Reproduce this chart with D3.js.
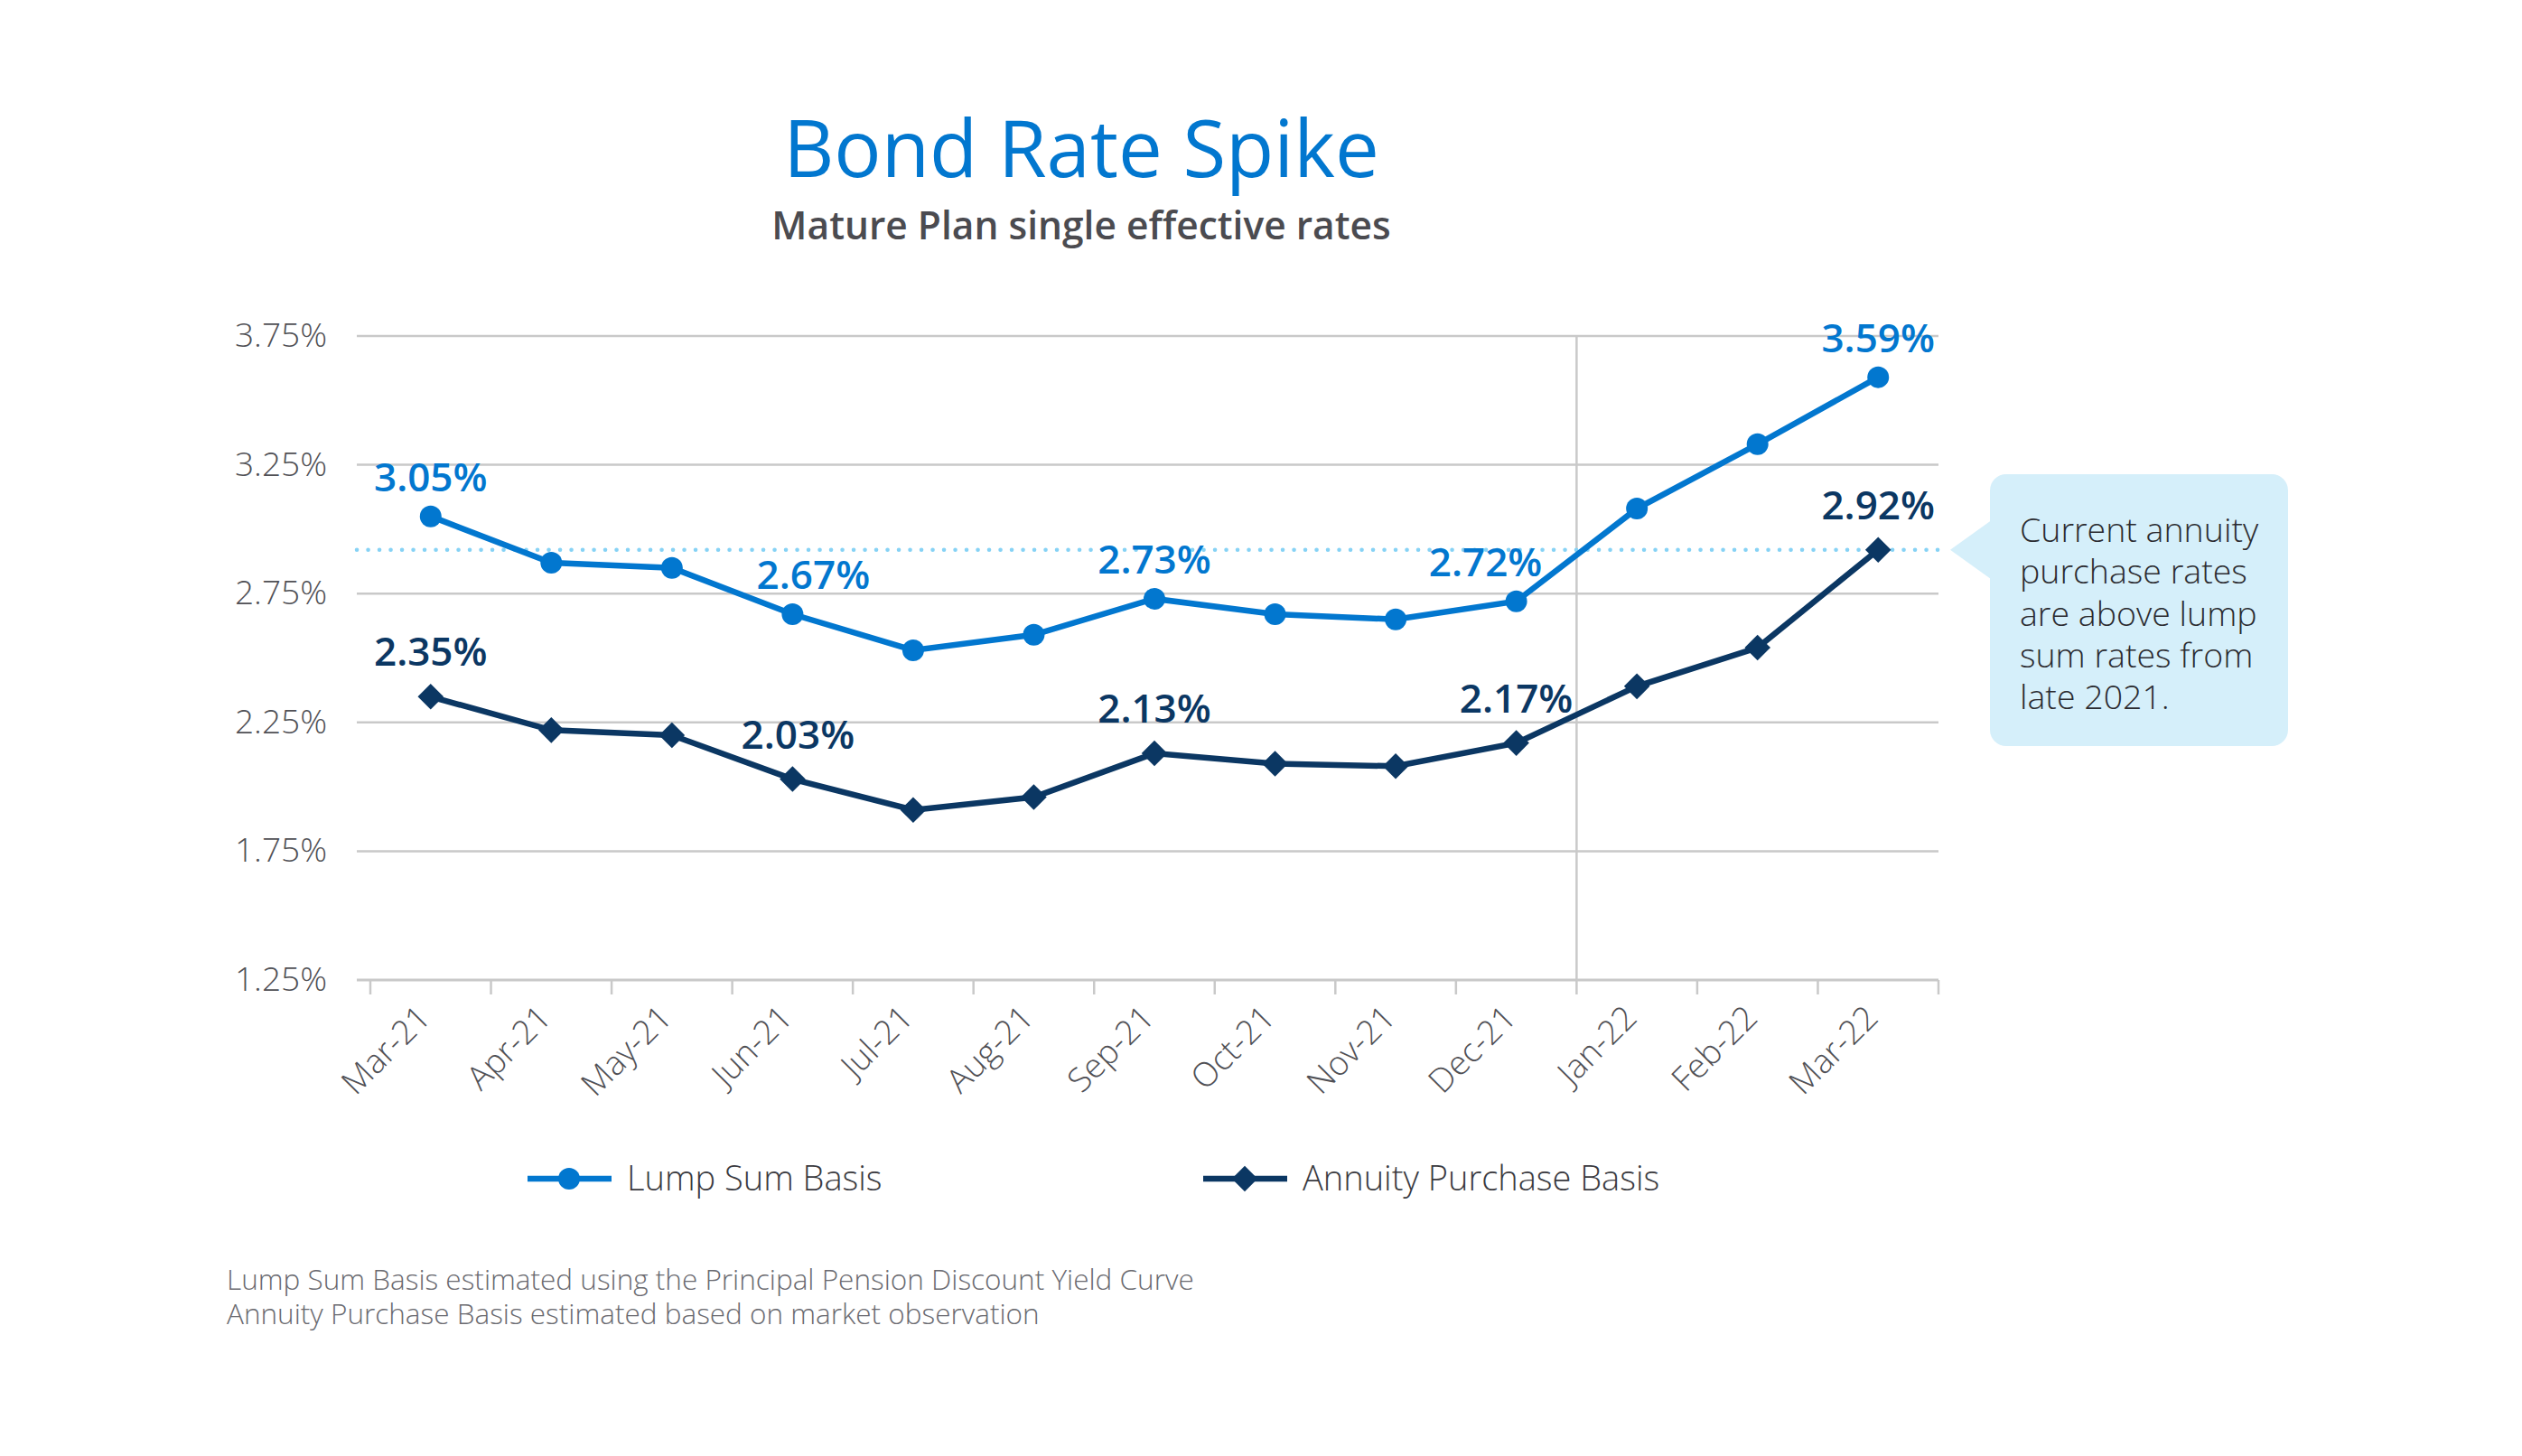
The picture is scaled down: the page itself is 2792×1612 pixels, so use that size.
<!DOCTYPE html>
<html>
<head>
<meta charset="utf-8">
<script src="https://cdn.jsdelivr.net/npm/d3@7"></script>
<style>
  body { margin: 0; background: #fff; }
  svg { display: block; font-family: "Open Sans", "Noto Sans", sans-serif; }
</style>
</head>
<body>
<svg id="chart" width="2792" height="1612"></svg>
<script>
var months = ["Mar-21", "Apr-21", "May-21", "Jun-21", "Jul-21", "Aug-21", "Sep-21",
              "Oct-21", "Nov-21", "Dec-21", "Jan-22", "Feb-22", "Mar-22"];
var lumpSum = [3.05, 2.87, 2.85, 2.67, 2.53, 2.59, 2.73, 2.67, 2.65, 2.72, 3.08, 3.33, 3.59];
var annuity = [2.35, 2.22, 2.20, 2.03, 1.91, 1.96, 2.13, 2.09, 2.08, 2.17, 2.39, 2.54, 2.92];
var yTicks = [1.25, 1.75, 2.25, 2.75, 3.25, 3.75];
// which points get a value label
var lumpLabelled = ["Mar-21", "Jun-21", "Sep-21", "Dec-21", "Mar-22"];
var annuityLabelled = ["Mar-21", "Jun-21", "Sep-21", "Dec-21", "Mar-22"];
var currentRate = 2.92;
var splitMonth = "Jan-22";
var calloutLines = ["Current annuity", "purchase rates", "are above lump", "sum rates from", "late 2021."];
var footnotes = ["Lump Sum Basis estimated using the Principal Pension Discount Yield Curve",
                 "Annuity Purchase Basis estimated based on market observation"];

var lightBlue = "#0277cf",
    navy = "#0b3763",
    gridColor = "#c9c9c9",
    fontFamily = '"Open Sans", "Noto Sans", sans-serif';

var svg = d3.select("#chart");

var plotLeft = 410, plotRight = 2146, plotTop = 372, plotBottom = 1085, gridStart = 395;

var x = d3.scaleBand().domain(months).range([plotLeft, plotRight]);
var y = d3.scaleLinear().domain([1.25, 3.75]).range([plotBottom, plotTop]);

// title
svg.append("text")
  .attr("x", 1197).attr("y", 196)
  .attr("text-anchor", "middle")
  .attr("font-size", 87)
  .attr("fill", lightBlue)
  .text("Bond Rate Spike");

svg.append("text")
  .attr("x", 1197).attr("y", 265)
  .attr("text-anchor", "middle")
  .attr("font-size", 42.5)
  .attr("font-weight", 600)
  .attr("fill", "#4b4b50")
  .text("Mature Plan single effective rates");

// grid
var grid = svg.append("g");
grid.selectAll("line")
  .data(yTicks.slice(1))
  .enter().append("line")
    .attr("x1", gridStart).attr("x2", plotRight)
    .attr("y1", function(d) { return y(d); })
    .attr("y2", function(d) { return y(d); })
    .attr("stroke", gridColor)
    .attr("stroke-width", 2.5);

grid.selectAll("text")
  .data(yTicks)
  .enter().append("text")
    .attr("x", 362)
    .attr("y", function(d) { return y(d) + 12; })
    .attr("text-anchor", "end")
    .attr("font-size", 37)
    .attr("font-weight", 300)
    .attr("fill", "#505055")
    .text(function(d) { return d3.format(".2f")(d) + "%"; });

// vertical separator
svg.append("line")
  .attr("x1", x(splitMonth)).attr("x2", x(splitMonth))
  .attr("y1", y(3.75)).attr("y2", y(1.25))
  .attr("stroke", gridColor)
  .attr("stroke-width", 2.5);

// x axis
var xAxis = d3.axisBottom(x).tickSize(0).tickFormat("");
var gx = svg.append("g")
  .attr("transform", "translate(0," + plotBottom + ")")
  .call(xAxis)
  .attr("font-family", fontFamily);
gx.select(".domain").remove();
gx.selectAll(".tick").remove();
gx.append("line")
  .attr("x1", gridStart).attr("x2", plotRight)
  .attr("stroke", gridColor).attr("stroke-width", 3);
var boundaries = months.map(function(m) { return x(m); }).concat([plotRight]);
gx.selectAll(".bnd")
  .data(boundaries)
  .enter().append("line")
    .attr("class", "bnd")
    .attr("x1", function(d) { return d; })
    .attr("x2", function(d) { return d; })
    .attr("y1", 0).attr("y2", 16)
    .attr("stroke", gridColor).attr("stroke-width", 2.5);

gx.selectAll(".lbl")
  .data(months)
  .enter().append("text")
    .attr("class", "lbl")
    .attr("transform", function(d) {
      return "translate(" + (x(d) + x.bandwidth() / 2 + 2) + ",44) rotate(-45)";
    })
    .attr("text-anchor", "end")
    .attr("font-size", 37)
    .attr("font-weight", 300)
    .attr("fill", "#505055")
    .text(function(d) { return d; });

// reference dotted line
svg.append("line")
  .attr("x1", gridStart).attr("x2", 2155)
  .attr("y1", y(currentRate)).attr("y2", y(currentRate))
  .attr("stroke", "#86d2f5")
  .attr("stroke-width", 4.5)
  .attr("stroke-linecap", "round")
  .attr("stroke-dasharray", "0.1 12.4");

var cx = function(d, i) { return x(months[i]) + x.bandwidth() / 2; };

var line = d3.line()
  .x(cx)
  .y(function(d) { return y(d); });

svg.append("path")
  .datum(lumpSum)
  .attr("d", line)
  .attr("fill", "none")
  .attr("stroke", lightBlue)
  .attr("stroke-width", 6.5);

svg.append("path")
  .datum(annuity)
  .attr("d", line)
  .attr("fill", "none")
  .attr("stroke", navy)
  .attr("stroke-width", 6.5);

svg.append("g").selectAll("circle")
  .data(lumpSum)
  .enter().append("circle")
    .attr("cx", cx)
    .attr("cy", function(d) { return y(d); })
    .attr("r", 12)
    .attr("fill", lightBlue);

var diamond = d3.symbol().type(d3.symbolDiamond2).size(520);
svg.append("g").selectAll("path")
  .data(annuity)
  .enter().append("path")
    .attr("d", diamond)
    .attr("transform", function(d, i) { return "translate(" + cx(d, i) + "," + y(d) + ")"; })
    .attr("fill", navy);

// value labels
var lumpNudge = { "Jun-21": 23, "Dec-21": -34 };
var annuityNudge = { "Jun-21": 6 };
function valueLabels(values, labelled, color, lift, nudge) {
  svg.append("g").selectAll("text")
    .data(values.map(function(v, i) { return { v: v, m: months[i], i: i }; })
      .filter(function(d) { return labelled.indexOf(d.m) >= 0; }))
    .enter().append("text")
      .attr("x", function(d) { return cx(d.v, d.i) + (nudge[d.m] || 0); })
      .attr("y", function(d) { return y(d.v) - lift; })
      .attr("text-anchor", "middle")
      .attr("font-size", 44)
      .attr("font-weight", 600)
      .attr("fill", color)
      .text(function(d) { return d3.format(".2f")(d.v) + "%"; });
}
valueLabels(lumpSum, lumpLabelled, lightBlue, 28, lumpNudge);
valueLabels(annuity, annuityLabelled, navy, 34, annuityNudge);

// callout
var cb = { x: 2203, y: 525, w: 330, h: 301 };
var callout = svg.append("g");
callout.append("rect")
  .attr("x", cb.x).attr("y", cb.y)
  .attr("width", cb.w).attr("height", cb.h)
  .attr("rx", 18)
  .attr("fill", "#d5effa");
callout.append("path")
  .attr("d", "M" + 2159 + "," + y(currentRate) + "L" + (cb.x + 2) + "," + (y(currentRate) - 33) +
             "L" + (cb.x + 2) + "," + (y(currentRate) + 33) + "Z")
  .attr("fill", "#d5effa");
callout.append("text")
  .attr("font-size", 37.5)
  .attr("font-weight", 300)
  .attr("fill", "#2b2b30")
  .selectAll("tspan")
  .data(calloutLines)
  .enter().append("tspan")
    .attr("x", 2236)
    .attr("y", function(d, i) { return 600 + i * 46.3; })
    .text(function(d) { return d; });

// legend
var legend = svg.append("g").attr("transform", "translate(0,1305)");
var items = [
  { name: "Lump Sum Basis", color: lightBlue, x: 584, shape: "circle" },
  { name: "Annuity Purchase Basis", color: navy, x: 1332, shape: "diamond" }
];
items.forEach(function(it) {
  legend.append("line")
    .attr("x1", it.x).attr("x2", it.x + 93)
    .attr("stroke", it.color).attr("stroke-width", 6.5);
  if (it.shape === "circle") {
    legend.append("circle").attr("cx", it.x + 46).attr("r", 12).attr("fill", it.color);
  } else {
    legend.append("path").attr("d", diamond)
      .attr("transform", "translate(" + (it.x + 46) + ",0)")
      .attr("fill", it.color);
  }
  legend.append("text")
    .attr("x", it.x + 110).attr("y", 13)
    .attr("font-size", 38)
    .attr("font-weight", 300)
    .attr("fill", "#3a3a40")
    .text(it.name);
});

// footnotes
svg.append("g").selectAll("text")
  .data(footnotes)
  .enter().append("text")
    .attr("x", 251)
    .attr("y", function(d, i) { return 1428 + i * 38; })
    .attr("font-size", 31.5)
    .attr("font-weight", 300)
    .attr("fill", "#6a6a70")
    .text(function(d) { return d; });
</script>
</body>
</html>
